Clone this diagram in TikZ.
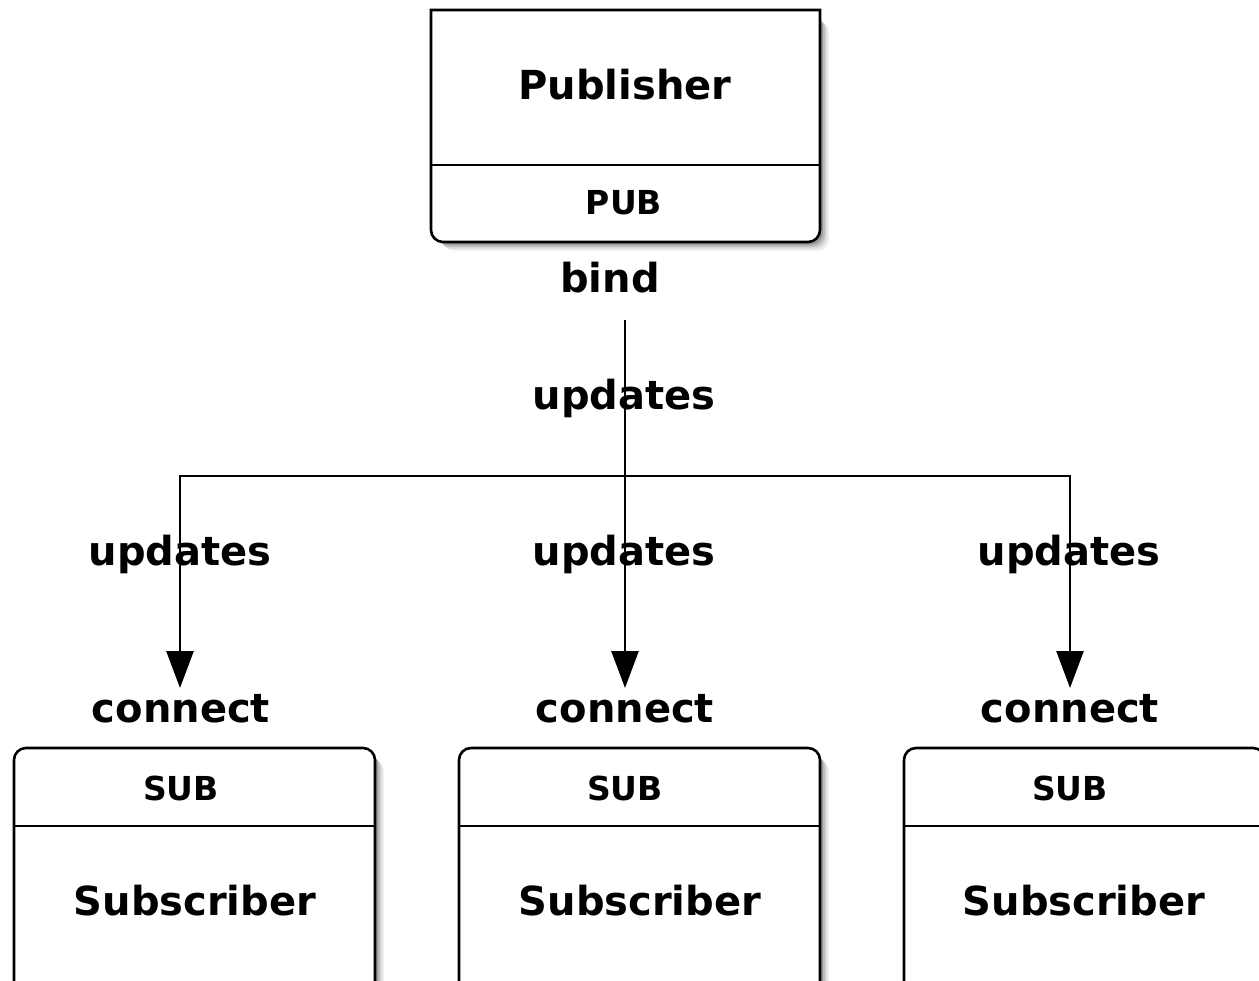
\documentclass[tikz,border=0pt]{standalone}
\usepackage{fontspec}
\setmainfont{DejaVu Sans}
\usetikzlibrary{arrows.meta}

\tikzset{
  outline/.style={draw=black, line width=2.6pt, fill=white},
  shadowlayer/.style={fill=black, draw=none},
  bigtext/.style={font=\fontsize{40pt}{48pt}\selectfont\bfseries, inner sep=0pt, anchor=base},
  tagtext/.style={font=\fontsize{33pt}{40pt}\selectfont\bfseries, inner sep=0pt, anchor=base},
  wire/.style={draw=black, line width=2.6pt},
  feed/.style={wire, -{Triangle[length=37pt,width=27pt]}},
}

\begin{document}
\begin{tikzpicture}[x=1pt,y=-1pt]
  \useasboundingbox (0,0) rectangle (1259,981);
  \fill[white] (0,0) rectangle (1259,981);

  % soft shadows behind the boxes
  \foreach \d/\o in {9/0.06,7/0.09,5/0.13,3/0.18} {
    \fill[shadowlayer, opacity=\o, rounded corners=12pt]
      (431+\d+2,10+\d+2) rectangle (820+\d,242+\d);
    \fill[shadowlayer, opacity=\o, rounded corners=12pt]
      (14+\d+2,748+\d+2) rectangle (375+\d,1000);
    \fill[shadowlayer, opacity=\o, rounded corners=12pt]
      (459+\d+2,748+\d+2) rectangle (820+\d,1000);
  }

  % publisher box: square top corners, rounded bottom corners
  \draw[outline] (431,10) -- (820,10) {[rounded corners=12pt] -- (820,242) -- (431,242)} -- cycle;
  \draw[wire] (431,165) -- (820,165);
  \node[bigtext] (pub) at (625,100) {Publisher};
  \node[tagtext] (pubsock) at (624,215) {PUB};

  % subscriber boxes: rounded top corners, open at the bottom edge
  \foreach \name/\xl/\xr in {a/14/375, b/459/820, c/904/1265} {
    \draw[outline] (\xl,990) {[rounded corners=12pt] -- (\xl,748) -- (\xr,748)} -- (\xr,990);
    \draw[wire] (\xl,826) -- (\xr,826);
  }
  \node[tagtext] (suba) at (181,800) {SUB};
  \node[tagtext] (subb) at (625,800) {SUB};
  \node[tagtext] (subc) at (1070,800) {SUB};
  \node[bigtext] (sa) at (195,915) {Subscriber};
  \node[bigtext] (sb) at (640,915) {Subscriber};
  \node[bigtext] (sc) at (1084,915) {Subscriber};

  % labels
  \node[bigtext] (bind) at (610,293) {bind};
  \node[bigtext] (up) at (624,410) {updates};
  \node[bigtext] (upa) at (180,565) {updates};
  \node[bigtext] (upb) at (624,565) {updates};
  \node[bigtext] (upc) at (1069,565) {updates};
  \node[bigtext] (cona) at (181,722) {connect};
  \node[bigtext] (conb) at (625,722) {connect};
  \node[bigtext] (conc) at (1070,722) {connect};

  % fan-out wiring
  \coordinate (src) at (625,320);
  \coordinate (fork) at (625,476);
  \coordinate (forkl) at (180,476);
  \coordinate (forkr) at (1070,476);
  \coordinate (tipa) at (180,688);
  \coordinate (tipb) at (625,688);
  \coordinate (tipc) at (1070,688);

  \draw[wire, line cap=rect] (forkl) -- (forkr);
  \draw[feed] (src) -- (tipb);
  \draw[feed] (forkl) -- (tipa);
  \draw[feed] (forkr) -- (tipc);
\end{tikzpicture}
\end{document}
